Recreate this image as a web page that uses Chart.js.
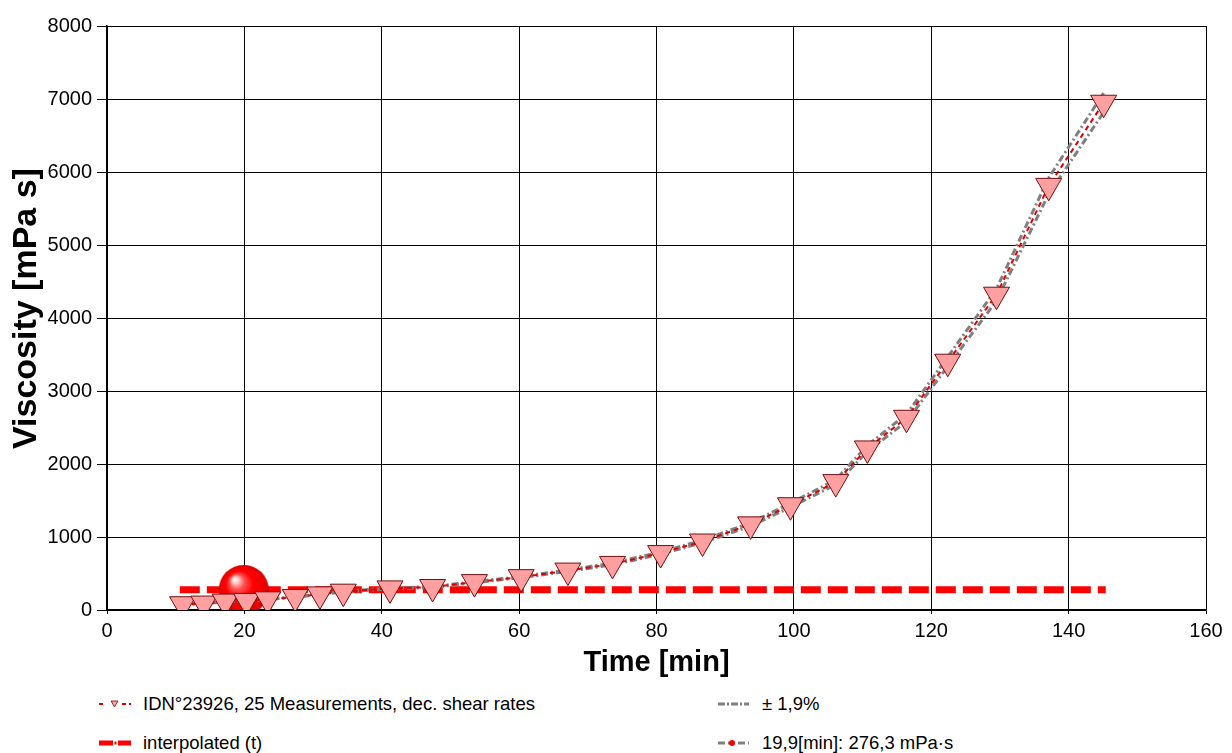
<!DOCTYPE html>
<html>
<head>
<meta charset="utf-8">
<script src="https://cdn.jsdelivr.net/npm/chart.js@4.4.1/dist/chart.umd.min.js"></script>
<style>
  html, body { margin: 0; padding: 0; background: #fff; }
  #wrap { position: relative; width: 1232px; height: 753px; overflow: hidden; font-family: "Liberation Sans", Arial, sans-serif; }
  #chart { position: absolute; left: 0; top: 0; }
  .leg { position: absolute; font-size: 18.5px; color: #000; white-space: nowrap; line-height: 20px; }
  .leg svg { position: absolute; left: -44px; top: 5px; }
</style>
</head>
<body>
<div id="wrap">
  <canvas id="chart" width="1232" height="680"></canvas>
  <div id="legend"></div>
</div>
<script>
// Measured viscosity curve (time in min, viscosity in mPa s)
const timeMin = [11.0, 14.1, 17.2, 20.3, 23.4, 27.4, 31.0, 34.4, 41.2, 47.4, 53.5, 60.3, 67.1,
                 73.6, 80.6, 86.7, 93.7, 99.5, 106.1, 110.7, 116.4, 122.4, 129.5, 137.1, 145.1];
const viscosity = [79, 88, 115, 125, 146, 179, 214, 251, 296, 315, 382, 450, 540,
                   631, 780, 938, 1173, 1435, 1752, 2213, 2633, 3401, 4319, 5810, 6949];
// +/- 1,9% band
const upperBand = [80.5, 89.7, 117.2, 127.4, 148.8, 182.4, 218.1, 255.8, 301.6, 321.0, 389.3, 458.6, 550.3,
                   643.0, 794.8, 955.8, 1195.3, 1462.3, 1785.3, 2255.1, 2683.0, 3465.6, 4401.1, 5920.4, 7081.0];
const lowerBand = [77.5, 86.3, 112.8, 122.6, 143.2, 175.6, 209.9, 246.2, 290.4, 309.0, 374.7, 441.5, 529.7,
                   619.0, 765.2, 920.2, 1150.7, 1407.7, 1718.7, 2171.0, 2583.0, 3336.4, 4236.9, 5699.6, 6817.0];
// interpolated value
const interpTime = [10.6, 145.4];
const interpValue = [276.3, 276.3];
const markTime = [19.9];
const markValue = [276.3];

const xTickValues = [0, 20, 40, 60, 80, 100, 120, 140, 160];
const yTickValues = [0, 1000, 2000, 3000, 4000, 5000, 6000, 7000, 8000];
const legendLabels = ['IDN°23926, 25 Measurements, dec. shear rates', '± 1,9%', 'interpolated (t)', '19,9[min]: 276,3 mPa·s'];

function toPoints(xs, ys) {
    return xs.map(function (x, i) { return { x: x, y: ys[i] }; });
}

// shaded ball used as the marker of the interpolated point
function makeSphere(r) {
    const c = document.createElement('canvas');
    c.width = r * 2;
    c.height = r * 2;
    const g = c.getContext('2d');
    const grad = g.createRadialGradient(r * 0.62, r * 0.55, 0, r, r, r);
    grad.addColorStop(0, '#ffffff');
    grad.addColorStop(0.12, '#ffd0d0');
    grad.addColorStop(0.3, '#ff5050');
    grad.addColorStop(0.55, '#ff0000');
    grad.addColorStop(0.85, '#f00000');
    grad.addColorStop(1, '#d00000');
    g.fillStyle = grad;
    g.beginPath();
    g.arc(r, r, r, 0, Math.PI * 2);
    g.fill();
    return c;
}

Chart.defaults.font.family = "'Liberation Sans', Arial, sans-serif";
Chart.defaults.color = '#000';

const plainLabel = function (value) { return String(value); };

const ctx = document.getElementById('chart').getContext('2d');
new Chart(ctx, {
    type: 'line',
    data: {
        datasets: [{
            label: legendLabels[0],
            data: toPoints(timeMin, viscosity),
            borderColor: '#e00000',
            borderWidth: 2,
            borderDash: [5, 4],
            pointStyle: 'triangle',
            rotation: 180,
            pointRadius: 15,
            pointBackgroundColor: '#ff9f9f',
            pointBorderColor: '#701010',
            pointBorderWidth: 1,
            order: 0
        }, {
            label: legendLabels[1],
            data: toPoints(timeMin, upperBand),
            borderColor: '#808080',
            borderWidth: 3,
            borderDash: [7, 3, 2, 3],
            pointRadius: 0,
            order: 2
        }, {
            label: legendLabels[1],
            data: toPoints(timeMin, lowerBand),
            borderColor: '#808080',
            borderWidth: 3,
            borderDash: [7, 3, 2, 3],
            pointRadius: 0,
            order: 2
        }, {
            label: legendLabels[2],
            data: toPoints(interpTime, interpValue),
            borderColor: '#ff0000',
            borderWidth: 7,
            borderDash: [20, 7],
            borderCapStyle: 'butt',
            pointRadius: 0,
            order: 4
        }, {
            label: legendLabels[3],
            data: toPoints(markTime, markValue),
            showLine: false,
            pointStyle: makeSphere(25),
            pointRadius: 25,
            order: 3
        }]
    },
    options: {
        responsive: false,
        animation: false,
        layout: { padding: { top: 20, right: 21, left: 0, bottom: 0 } },
        plugins: {
            legend: { display: false },
            tooltip: { enabled: false }
        },
        elements: { line: { tension: 0 } },
        scales: {
            x: {
                type: 'linear',
                min: 0,
                max: 160,
                afterBuildTicks: function (scale) {
                    scale.ticks = xTickValues.map(function (v) { return { value: v }; });
                },
                afterFit: function (scale) { scale.height = 70; },
                ticks: { font: { size: 20 }, color: '#000', padding: 5, maxRotation: 0, autoSkip: false, callback: plainLabel },
                grid: { color: '#000', lineWidth: 1, tickLength: 4, tickColor: '#000' },
                border: { color: '#000', width: 1.5 },
                title: {
                    display: true,
                    text: 'Time [min]',
                    color: '#000',
                    font: { size: 29, weight: 'bold', lineHeight: 1 },
                    padding: { top: 0, bottom: 3 }
                }
            },
            y: {
                type: 'linear',
                min: 0,
                max: 8000,
                afterBuildTicks: function (scale) {
                    scale.ticks = yTickValues.map(function (v) { return { value: v }; });
                },
                afterFit: function (scale) { scale.width = 107; },
                ticks: { font: { size: 20 }, color: '#000', padding: 5, callback: plainLabel },
                grid: { color: '#000', lineWidth: 1, tickLength: 10, tickColor: '#000' },
                border: { color: '#000', width: 1.5 },
                title: {
                    display: true,
                    text: '\u00a0\u00a0Viscosity [mPa s]',
                    color: '#000',
                    font: { size: 34, weight: 'bold', lineHeight: 1 },
                    padding: { top: 10, bottom: 0 }
                }
            }
        }
    }
});

// Legend (two columns below the plot)
const swatches = [
    '<svg width="34" height="10"><line x1="0" y1="5" x2="7" y2="5" stroke="#e00000" stroke-width="2" stroke-dasharray="4,3"/>' +
    '<polygon points="12,2 19,2 15.5,8" fill="#ff9f9f" stroke="#701010" stroke-width="0.8"/>' +
    '<line x1="23" y1="5" x2="32" y2="5" stroke="#e00000" stroke-width="2" stroke-dasharray="4,3"/></svg>',
    '<svg width="34" height="10"><line x1="0" y1="5" x2="31" y2="5" stroke="#808080" stroke-width="3" stroke-dasharray="7,2,2,2"/></svg>',
    '<svg width="34" height="10"><rect x="0" y="2.5" width="14" height="5" fill="#ff0000"/><rect x="15.5" y="3.5" width="2" height="3" fill="#ff0000"/>' +
    '<rect x="19" y="2.5" width="13" height="5" fill="#ff0000"/></svg>',
    '<svg width="34" height="10"><line x1="0" y1="5" x2="31" y2="5" stroke="#808080" stroke-width="3" stroke-dasharray="7,3"/>' +
    '<circle cx="14" cy="5" r="3" fill="#ff0000"/></svg>'
];
const legendPos = [[143, 694], [762, 694], [143, 733], [762, 733]];
const legendEl = document.getElementById('legend');
legendLabels.forEach(function (text, i) {
    const item = document.createElement('div');
    item.className = 'leg';
    item.style.left = legendPos[i][0] + 'px';
    item.style.top = legendPos[i][1] + 'px';
    item.innerHTML = swatches[i];
    item.appendChild(document.createTextNode(text));
    legendEl.appendChild(item);
});
</script>
</body>
</html>
